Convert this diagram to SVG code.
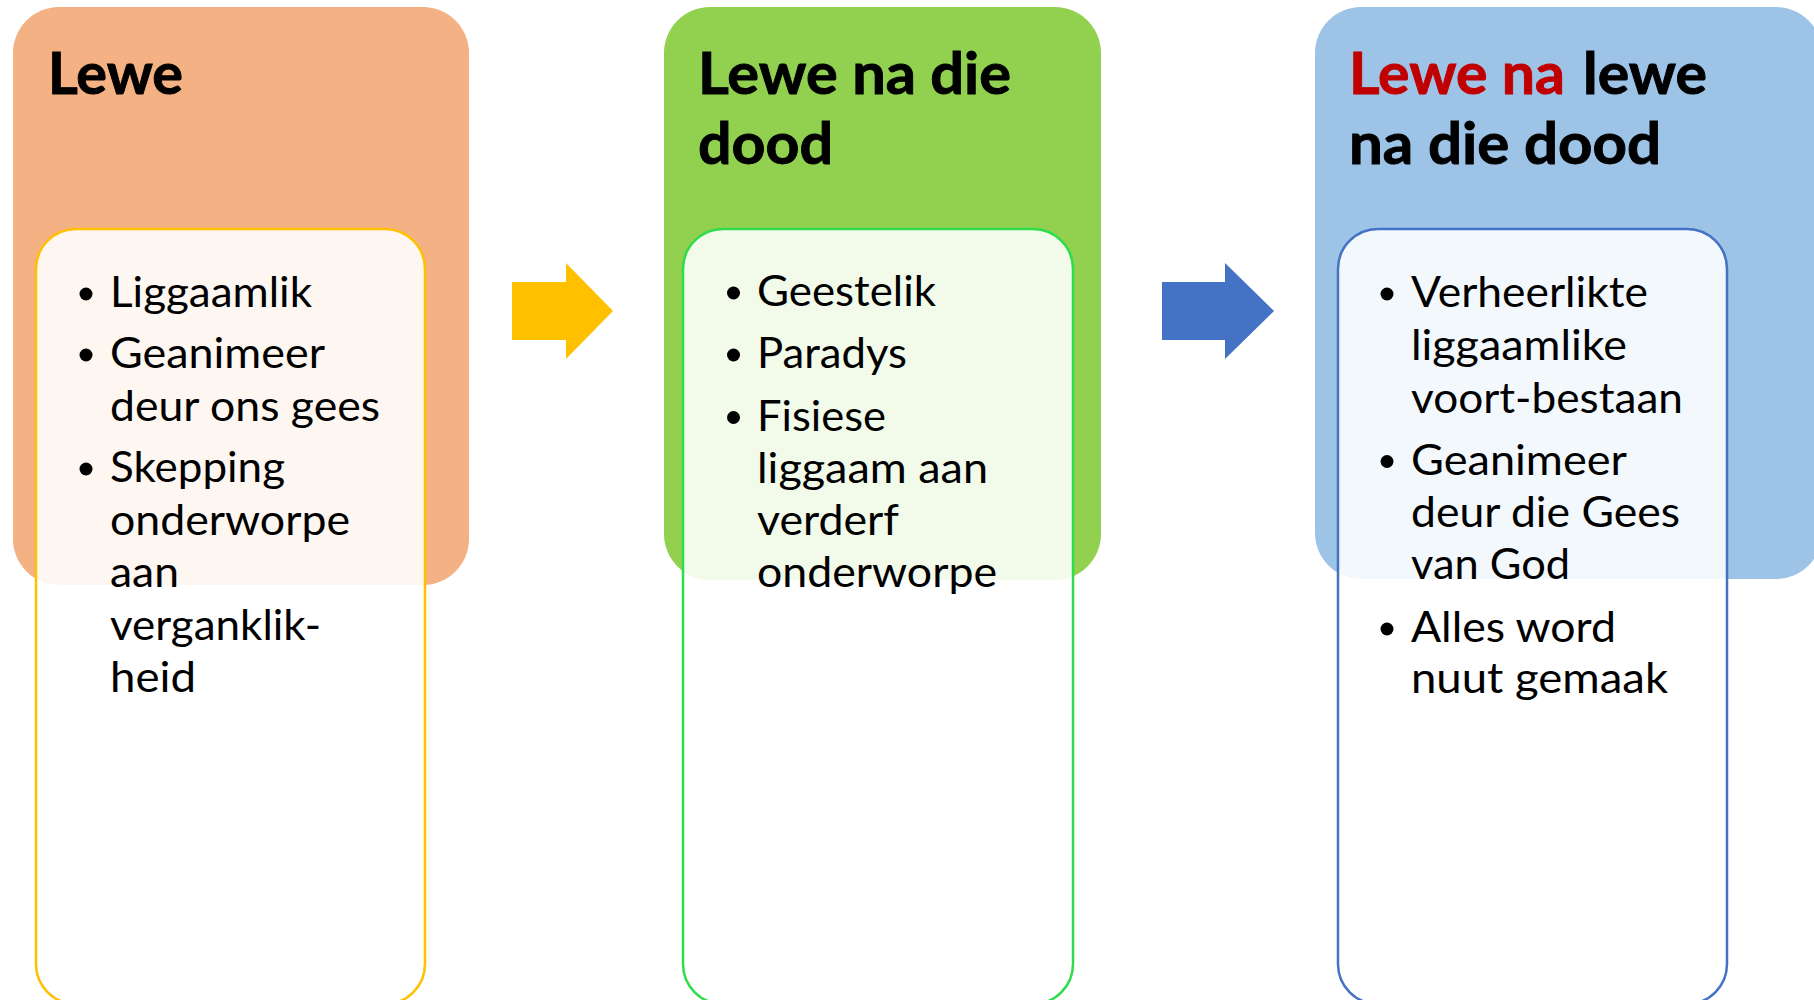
<svg xmlns="http://www.w3.org/2000/svg" width="1814" height="1000" viewBox="0 0 1814 1000">
<style>
.title{font-family:Lato,"Open Sans","Liberation Sans",sans-serif;font-weight:700;font-size:57px;fill:#000;stroke:#000;stroke-width:0.9}
.red{fill:#C00000;stroke:#C00000}
.item{font-family:Lato,"Open Sans","Liberation Sans",sans-serif;font-size:42px;fill:#000}
.inner{fill:#ffffff;fill-opacity:0.88;stroke-width:2.5}
.dot{fill:#000}
</style>
<rect width="1814" height="1000" fill="#ffffff"/>
<g id="node-lewe">
<rect x="13" y="7" width="456" height="578" rx="46" ry="46" fill="#F4B183"/>
<rect class="inner" x="36" y="229" width="389" height="775" rx="40" ry="40" stroke="#FFC000"/>
<text class="title" x="48" y="94" textLength="135" lengthAdjust="spacingAndGlyphs">Lewe</text>
<circle class="dot" cx="86" cy="294" r="6.5"/>
<circle class="dot" cx="86" cy="355" r="6.5"/>
<circle class="dot" cx="86" cy="469" r="6.5"/>
<text class="item" x="110" y="307" textLength="202" lengthAdjust="spacingAndGlyphs">Liggaamlik</text>
<text class="item" x="110" y="368" textLength="215" lengthAdjust="spacingAndGlyphs">Geanimeer</text>
<text class="item" x="110" y="421" textLength="270" lengthAdjust="spacingAndGlyphs">deur ons gees</text>
<text class="item" x="110" y="482" textLength="175" lengthAdjust="spacingAndGlyphs">Skepping</text>
<text class="item" x="110" y="534.5" textLength="240" lengthAdjust="spacingAndGlyphs">onderworpe</text>
<text class="item" x="110" y="587" textLength="69" lengthAdjust="spacingAndGlyphs">aan</text>
<text class="item" x="110" y="640" textLength="211" lengthAdjust="spacingAndGlyphs">verganklik-</text>
<text class="item" x="110" y="692" textLength="86" lengthAdjust="spacingAndGlyphs">heid</text>
</g>
<g id="node-lewe-na-die-dood">
<rect x="664" y="7" width="437" height="573" rx="46" ry="46" fill="#92D050"/>
<rect class="inner" x="683" y="229" width="390" height="775" rx="40" ry="40" stroke="#2EDC4C"/>
<text class="title" x="698" y="94" textLength="313" lengthAdjust="spacingAndGlyphs">Lewe na die</text>
<text class="title" x="698" y="164" textLength="135" lengthAdjust="spacingAndGlyphs">dood</text>
<circle class="dot" cx="733.5" cy="293" r="6.5"/>
<circle class="dot" cx="733.5" cy="355" r="6.5"/>
<circle class="dot" cx="733.5" cy="417.5" r="6.5"/>
<text class="item" x="757" y="306" textLength="179" lengthAdjust="spacingAndGlyphs">Geestelik</text>
<text class="item" x="757" y="368" textLength="150" lengthAdjust="spacingAndGlyphs">Paradys</text>
<text class="item" x="757" y="430.5" textLength="129" lengthAdjust="spacingAndGlyphs">Fisiese</text>
<text class="item" x="757" y="483" textLength="231" lengthAdjust="spacingAndGlyphs">liggaam aan</text>
<text class="item" x="757" y="535" textLength="142" lengthAdjust="spacingAndGlyphs">verderf</text>
<text class="item" x="757" y="587" textLength="240" lengthAdjust="spacingAndGlyphs">onderworpe</text>
</g>
<g id="node-lewe-na-lewe">
<rect x="1315" y="7" width="507" height="572" rx="46" ry="46" fill="#9DC3E6"/>
<rect class="inner" x="1338" y="229" width="389" height="775" rx="40" ry="40" stroke="#4472C4"/>
<text class="title" y="94"><tspan class="red" x="1349" textLength="216" lengthAdjust="spacingAndGlyphs">Lewe na</tspan><tspan x="1583" textLength="124" lengthAdjust="spacingAndGlyphs">lewe</tspan></text>
<text class="title" x="1349" y="164" textLength="312" lengthAdjust="spacingAndGlyphs">na die dood</text>
<circle class="dot" cx="1387" cy="294" r="6.5"/>
<circle class="dot" cx="1387" cy="461.5" r="6.5"/>
<circle class="dot" cx="1387" cy="629" r="6.5"/>
<text class="item" x="1411" y="307" textLength="237" lengthAdjust="spacingAndGlyphs">Verheerlikte</text>
<text class="item" x="1411" y="360" textLength="216" lengthAdjust="spacingAndGlyphs">liggaamlike</text>
<text class="item" x="1411" y="412.5" textLength="272" lengthAdjust="spacingAndGlyphs">voort-bestaan</text>
<text class="item" x="1411" y="474.5" textLength="216" lengthAdjust="spacingAndGlyphs">Geanimeer</text>
<text class="item" x="1411" y="527" textLength="269" lengthAdjust="spacingAndGlyphs">deur die Gees</text>
<text class="item" x="1411" y="579" textLength="159" lengthAdjust="spacingAndGlyphs">van God</text>
<text class="item" x="1411" y="641.5" textLength="205" lengthAdjust="spacingAndGlyphs">Alles word</text>
<text class="item" x="1411" y="693" textLength="257" lengthAdjust="spacingAndGlyphs">nuut gemaak</text>
</g>
<g id="connectors">
<polygon id="arrow-1" points="512,282 566,282 566,263 613,311 566,359 566,340 512,340" fill="#FFC000"/>
<polygon id="arrow-2" points="1162,282 1225,282 1225,263 1274,311 1225,359 1225,340 1162,340" fill="#4472C4"/>
</g>
</svg>
